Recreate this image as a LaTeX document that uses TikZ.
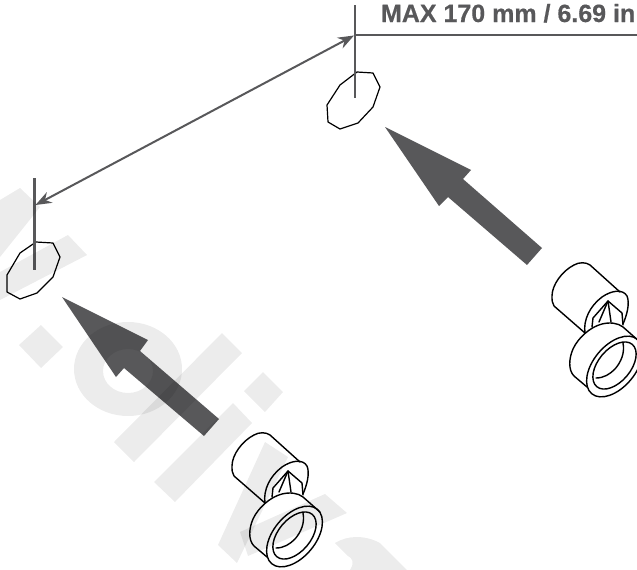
\documentclass[tikz,border=0pt]{standalone}
\usepackage{fontspec}
\setmainfont{Liberation Sans}[BoldFeatures={FakeBold=0.5}]
\usetikzlibrary{arrows.meta}
\definecolor{dimgrey}{HTML}{58585A}
\definecolor{markgrey}{HTML}{ECECEC}
\tikzset{
  fixline/.style={draw=black,line width=1.4pt,line join=round,line cap=round},
  dimline/.style={draw=dimgrey,line width=2.6pt},
  spanline/.style={draw=dimgrey,line width=2pt,{Stealth[length=16pt,width=12pt]}-{Stealth[length=16pt,width=12pt]}},
  bigarrow/.style={fill=dimgrey},
  spot/.style={draw=black,line width=1.2pt,line join=round}
}
\newcommand{\fixturedraw}{%
  % back cylinder
  \draw[fixline] (300,462) -- (270,435) .. controls (266,432) and (259,432) .. (254,435)
     .. controls (242,441) and (232,455) .. (232,466) .. controls (232,470) and (232,473) .. (234,476) -- (265,503);
  % cylinder front edge
  \draw[fixline] (265,503) .. controls (263,490) and (270,476) .. (282,467)
     .. controls (292,460) and (303,459) .. (307,466) .. controls (310,473) and (307,485) .. (303,494);
  % hex bolt
  \draw[fixline] (272,497) -- (273,488) -- (288,471) -- (302,483) -- (303,495);
  \draw[fixline] (288,471) -- (279,492);
  \draw[fixline] (288,471) -- (291,492);
  % ring body
  \draw[fixline] (267,557) -- (254,546) .. controls (248,540) and (249,528) .. (253,519)
     .. controls (258,508) and (270,497) .. (282,494) .. controls (290,492) and (298,493) .. (303,497) -- (320,512);
  % ring face
  \draw[fixline,shift={(294.5,536.5)},rotate=50] (0,0) ellipse [x radius=35.5,y radius=21];
  \draw[fixline,shift={(294.5,535.5)},rotate=50] (0,0) ellipse [x radius=27.6,y radius=16.2];
  % bore
  \draw[fixline] (303,513) .. controls (305,523) and (301,532) .. (295,539) .. controls (290,544) and (284,548) .. (276,548);
}
\begin{document}
\begin{tikzpicture}[x=1pt,y=-1pt]
\useasboundingbox (0,0) rectangle (637,570);
\clip (0,0) rectangle (637,570);
\coordinate (topmark) at (355,5);
\coordinate (topfoot) at (355,98);
\coordinate (topjoin) at (355,35);
\coordinate (topend) at (637,35);
\coordinate (leftmark) at (34.5,178);
\coordinate (leftfoot) at (34.5,270);
\coordinate (lefttip) at (35.5,205);
\coordinate (righttip) at (354,35.5);
% spots
\draw[spot] (357,72) -- (373,73) -- (380,87) -- (373,107) -- (358,123) -- (340,129) -- (328,122) -- (327,105) -- (340,85) -- cycle;
\draw[spot] (36,242) -- (53,243) -- (60,257) -- (53,277) -- (37,293) -- (20,299) -- (7,292) -- (7,275) -- (20,253) -- cycle;
% dimension lines
\draw[dimline] (topmark) -- (topfoot);
\draw[dimline] (topjoin) -- (topend);
\draw[dimline] (leftmark) -- (leftfoot);
\draw[spanline] (lefttip) -- (righttip);
\node[anchor=base east,inner sep=0pt,text=dimgrey,font=\bfseries\fontsize{25}{30}\selectfont] (maxlabel) at (635.5,22) {MAX 170 mm / 6.69 in};
% big arrows
\fill[bigarrow] (385,127) -- (471,170) -- (463,179) -- (542,248) -- (527,265) -- (448,197) -- (439,206) -- cycle;
\fill[bigarrow] (62,297) -- (148,340) -- (140,351) -- (219,419) -- (204,436) -- (124,368) -- (116,377) -- cycle;
% fixtures
\fixturedraw
\begin{scope}[shift={(320,-170)}]
\fixturedraw
\end{scope}
% watermark
\begin{scope}[blend mode=multiply,fill=markgrey]
\fill (0,200) -- (20,188) -- (40,207) -- (0,257) -- cycle;
\fill (68,235) -- (87,255) -- (0,300) -- (0,272) -- cycle;
\fill (41,325) -- (63,347) -- (41,368) -- (19,345) -- cycle;
\fill (263,372) -- (283,392) -- (265,412) -- (244,391) -- cycle;
\fill (233,403) -- (252,423) -- (175,502) -- (154,482) -- cycle;
\fill (222,333) -- (242,353) -- (134,462) -- (114,442) -- cycle;
\fill[even odd rule] (128,369) ellipse [x radius=54,y radius=47] (128,371) ellipse [x radius=25,y radius=22];
\fill (265,442) -- (288,457) -- (237,563) -- (218,545) -- cycle;
\fill (325,494) -- (347,513) -- (248,556) -- (240,532) -- cycle;
\fill (335,543) .. controls (348,535) and (365,535) .. (380,543) -- (407,570) -- (350,570) .. controls (355,562) and (352,558) .. (348,556) -- cycle;
\end{scope}
\end{tikzpicture}
\end{document}
